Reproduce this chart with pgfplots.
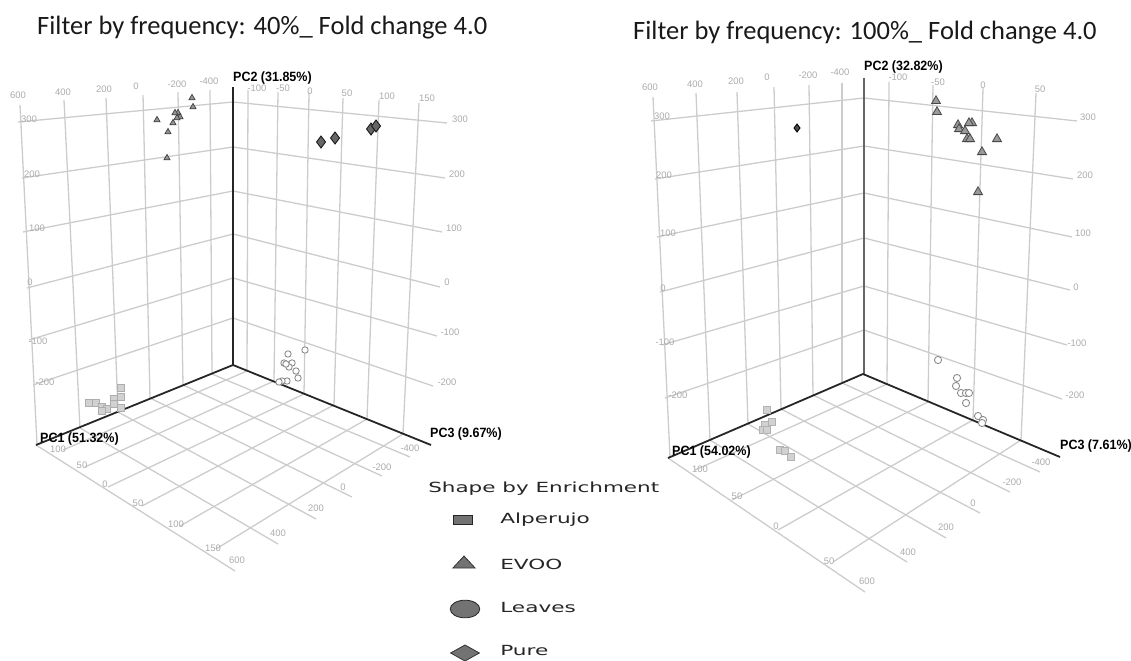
\documentclass[border=0pt]{standalone}
\usepackage{pgfplots}
\pgfplotsset{compat=1.18}
\usepackage{fontspec}
\setmainfont{Liberation Sans}
\newfontfamily\titlefont{Carlito}
\newfontfamily\legfont{DejaVu Sans}
\definecolor{gridc}{HTML}{CCCCCC}
\definecolor{tickc}{HTML}{ABABAB}
\newcommand{\gl}[4]{\addplot[gridc,line width=1.3bp] coordinates {(#1,#2)(#3,#4)};}
\newcommand{\tl}[3]{\node[text=tickc,inner sep=0pt,font=\fontsize{9.5}{10}\selectfont] at (axis cs:#1,#2) {#3};}
\newcommand{\pc}[3]{\node[inner sep=0pt,anchor=west,xscale=0.93,font=\bfseries\fontsize{13.5}{14}\selectfont] at (axis cs:#1,#2) {#3};}
\begin{document}
\begin{tikzpicture}
\useasboundingbox (0,0) rectangle (1131bp,661bp);
\begin{axis}[at={(0,0)},anchor=south west,scale only axis,width=1131bp,height=661bp,
  xmin=0,xmax=1131,ymin=0,ymax=661,y dir=reverse,axis lines=none,clip=false]
% ---------- left panel: walls
\gl{18}{122}{233}{102}\gl{22}{178}{233}{147}\gl{23}{232}{233}{191}
\gl{27}{288}{233}{234}\gl{29}{340}{233}{278}\gl{33}{385}{233}{318}
\gl{233}{102}{447}{123}\gl{233}{147}{445}{178}\gl{233}{191}{442}{232}
\gl{233}{234}{440}{287}\gl{233}{278}{437}{336}\gl{233}{318}{433}{386}
\gl{20}{105}{37}{444}\gl{64}{100}{80}{428}\gl{106}{98}{118}{412}
\gl{143}{95}{150}{398}\gl{178}{92}{183}{385}\gl{210}{90}{212}{374}
\gl{248}{90}{247}{371}\gl{278}{92}{274}{381}\gl{309}{93}{304}{394}
\gl{343}{98}{334}{405}\gl{379}{100}{367}{419}\gl{419}{103}{403}{434}
% left panel: floor
\gl{212}{374}{410}{457}\gl{183}{385}{382}{476}\gl{150}{398}{352}{497}
\gl{118}{412}{316}{519}\gl{80}{428}{278}{544}\gl{36}{445}{235}{571}
\gl{247}{371}{63}{450}\gl{274}{381}{85}{467}\gl{304}{394}{108}{487}
\gl{334}{405}{142}{506}\gl{367}{419}{180}{526}\gl{403}{434}{216}{549}
% left panel: axes
\addplot[black!85,line width=1.8bp] coordinates {(233,87)(233,365)};
\addplot[black!85,line width=1.8bp] coordinates {(36,445)(233,365)};
\addplot[black!85,line width=1.8bp] coordinates {(233,365)(431,445)};
% ---------- right panel: walls
\gl{651}{121}{864}{98}\gl{655}{179}{864}{146}\gl{657}{237}{864}{193}
\gl{660}{292}{864}{238}\gl{662}{345}{864}{286}\gl{665}{398}{864}{330}
\gl{864}{98}{1077}{121}\gl{864}{146}{1073}{179}\gl{864}{193}{1072}{237}
\gl{864}{238}{1070}{290}\gl{864}{286}{1067}{345}\gl{864}{330}{1062}{399}
\gl{653}{97}{670}{457}\gl{696}{93}{710}{440}\gl{737}{92}{748}{424}
\gl{774}{87}{781}{409}\gl{809}{85}{813}{395}\gl{842}{83}{842}{383}
\gl{889}{82}{887}{384}\gl{933}{85}{928}{402}\gl{983}{88}{973}{420}\gl{1036}{93}{1021}{440}
% right panel: floor
\gl{842}{383}{1040}{472}\gl{813}{395}{1010}{492}\gl{781}{409}{980}{513}
\gl{748}{424}{946}{538}\gl{710}{440}{907}{562}\gl{668}{458}{865}{592}
\gl{887}{384}{695}{470}\gl{928}{402}{732}{500}\gl{973}{420}{778}{530}\gl{1021}{440}{833}{562}
% right panel: axes
\addplot[black!60,line width=2bp] coordinates {(864,78)(864,374)};
\addplot[black!85,line width=1.8bp] coordinates {(668,458)(863,374)};
\addplot[black!85,line width=1.8bp] coordinates {(863,374)(1060,457)};
% ---------- left data
\addplot[only marks,mark=*,mark size=3.2bp,mark options={fill=white,draw=black!45,line width=0.9bp}] coordinates {
(305,350)(288,354)(284,363)(292,363)(289,367)(286,364)(296,371)(298,378)(287,381)(282,381)(279,382)};
\addplot[only marks,mark=square*,mark size=3.4bp,mark options={fill=black!18,draw=black!32,line width=0.8bp}] coordinates {
(89,403)(96,403)(102,407)(107,409)(102,411)(114,399)(114,404)(121,388)(121,397)(121,408)};
\addplot[only marks,mark=triangle*,mark size=3.6bp,mark options={fill=black!42,draw=black!75,line width=0.7bp}] coordinates {
(192,98)(193,107)(157,120)(178,113)(175,113)(180,117)(177,118)(173,123)(168,132)(167,158)};
\addplot[only marks,mark=diamond*,mark size=6bp,mark options={fill=black!60,draw=black!90,line width=0.9bp}] coordinates {
(321,142)(335,138)(371,129)(376,126)};
% ---------- right data
\addplot[only marks,mark=*,mark size=3.6bp,mark options={fill=white,draw=black!45,line width=0.9bp}] coordinates {
(938,360)(957,378)(956,386)(961,393)(966,393)(969,393)(966,403)(978,416)(983,420)(982,423)};
\addplot[only marks,mark=square*,mark size=3.6bp,mark options={fill=black!18,draw=black!30,line width=0.8bp}] coordinates {
(767,410)(772,422)(765,425)(763,430)(767,430)(780,450)(785,451)(791,457)};
\addplot[only marks,mark=triangle*,mark size=5.2bp,mark options={fill=black!40,draw=black!72,line width=0.8bp}] coordinates {
(936,101)(937,112)(958,125)(959,129)(972,123)(969,123)(965,131)(967,139)(970,139)(997,139)(982,152)(978,192)};
\addplot[only marks,mark=diamond*,mark size=4bp,mark options={fill=black!70,draw=black,line width=0.9bp}] coordinates {(797,128)};
% ---------- legend symbols
\addplot[only marks,mark=square*,mark size=7bp,mark options={yscale=0.6,xscale=1.4,fill=black!55,draw=black!85,line width=0.9bp}] coordinates {(463,520)};
\addplot[only marks,mark=triangle*,mark size=8bp,mark options={xscale=1.6,yscale=1.0,fill=black!55,draw=black!80,line width=0.8bp}] coordinates {(464,564)};
\addplot[only marks,mark=*,mark size=8bp,mark options={xscale=1.85,yscale=1.1,fill=black!55,draw=black!85,line width=0.8bp}] coordinates {(465,609)};
\addplot[only marks,mark=diamond*,mark size=8bp,mark options={xscale=2.4,yscale=1,fill=black!55,draw=black!80,line width=0.8bp}] coordinates {(465,653)};
% ---------- tick labels left
\tl{18}{95}{600}\tl{63}{92}{400}\tl{104}{89}{200}\tl{136}{86}{0}\tl{177}{84}{-200}\tl{209}{81}{-400}
\tl{257}{88}{-100}\tl{283}{88}{-50}\tl{310}{91}{0}\tl{347}{93}{50}\tl{387}{96}{100}\tl{427}{98}{150}
\tl{460}{119}{300}\tl{457}{174}{200}\tl{454}{228}{100}\tl{447}{282}{0}\tl{450}{332}{-100}\tl{447}{382}{-200}
\tl{29}{119}{300}\tl{32}{174}{200}\tl{37}{228}{100}\tl{30}{282}{0}\tl{38}{341}{-100}\tl{45}{382}{-200}
\tl{410}{448}{-400}\tl{382}{467}{-200}\tl{343}{487}{0}\tl{316}{508}{200}\tl{278}{533}{400}\tl{237}{560}{600}
\tl{58}{449}{100}\tl{82}{465}{50}\tl{105}{484}{0}\tl{138}{503}{50}\tl{176}{524}{100}\tl{213}{548}{150}
% tick labels right
\tl{650}{87}{600}\tl{695}{84}{400}\tl{736}{81}{200}\tl{767}{77}{0}\tl{808}{75}{-200}\tl{840}{72}{-400}
\tl{898}{77}{-100}\tl{938}{82}{-50}\tl{983}{85}{0}\tl{1040}{89}{50}
\tl{1088}{117}{300}\tl{1085}{175}{200}\tl{1083}{233}{100}\tl{1076}{287}{0}\tl{1077}{343}{-100}\tl{1075}{395}{-200}
\tl{662}{116}{300}\tl{664}{175}{200}\tl{668}{233}{100}\tl{663}{288}{0}\tl{665}{342}{-100}\tl{678}{395}{-200}
\tl{1041}{462}{-400}\tl{1012}{482}{-200}\tl{973}{503}{0}\tl{946}{527}{200}\tl{908}{552}{400}\tl{867}{581}{600}
\tl{700}{469}{100}\tl{737}{496}{50}\tl{776}{526}{0}\tl{829}{561}{50}
% ---------- axis names
\pc{233}{78}{PC2 (31.85\%)}
\pc{40}{439}{PC1 (51.32\%)}
\pc{430}{434}{PC3 (9.67\%)}
\pc{864}{67}{PC2 (32.82\%)}
\pc{672}{452}{PC1 (54.02\%)}
\pc{1060}{446}{PC3 (7.61\%)}
% ---------- titles
\node[inner sep=0pt,anchor=west,font=\titlefont\fontsize{26.6}{28}\selectfont,text=black!90] at (axis cs:37,28) {Filter by frequency: 40\%\_ Fold change 4.0};
\node[inner sep=0pt,anchor=west,font=\titlefont\fontsize{26.6}{28}\selectfont,text=black!90] at (axis cs:633,33) {Filter by frequency: 100\%\_ Fold change 4.0};
% ---------- legend text
\node[inner sep=0pt,anchor=west,xscale=1.54,font=\legfont\fontsize{14}{16}\selectfont,text=black!85] at (axis cs:428,489) {Shape by Enrichment};
\node[inner sep=0pt,anchor=west,xscale=1.55,font=\legfont\fontsize{14}{16}\selectfont,text=black!85] at (axis cs:500,520) {Alperujo};
\node[inner sep=0pt,anchor=west,xscale=1.55,font=\legfont\fontsize{14}{16}\selectfont,text=black!85] at (axis cs:500,564) {EVOO};
\node[inner sep=0pt,anchor=west,xscale=1.55,font=\legfont\fontsize{14}{16}\selectfont,text=black!85] at (axis cs:500,608) {Leaves};
\node[inner sep=0pt,anchor=west,xscale=1.55,font=\legfont\fontsize{14}{16}\selectfont,text=black!85] at (axis cs:500,651) {Pure};
\end{axis}
\end{tikzpicture}
\end{document}
